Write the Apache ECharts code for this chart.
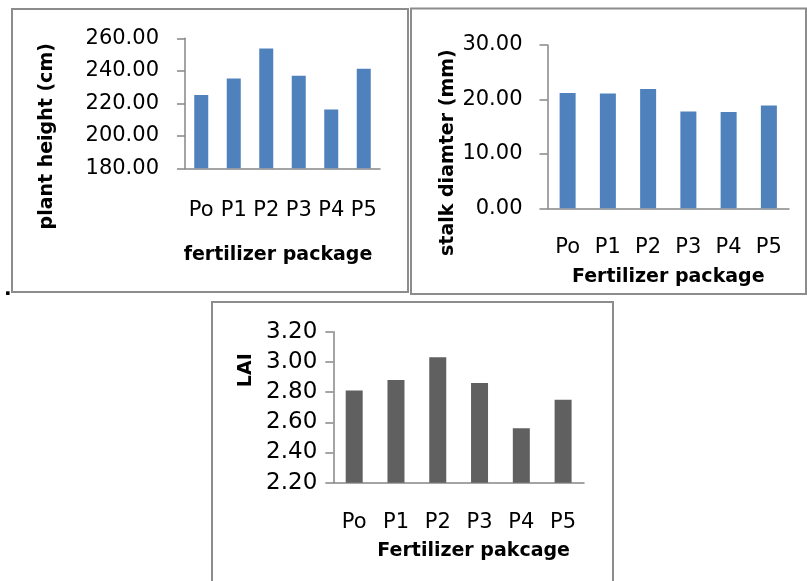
<!DOCTYPE html>
<html><head><meta charset="utf-8">
<script src="https://cdn.jsdelivr.net/npm/echarts@6/dist/echarts.min.js"></script>
<style>html,body{margin:0;padding:0;background:#fff;}#c{width:807px;height:581px;}</style>
</head><body><div id="c"></div>
<script>
var categories = ['Po', 'P1', 'P2', 'P3', 'P4', 'P5'];
var plantHeight = [225.1, 235.3, 253.8, 236.9, 216.2, 241.2];
var stalkDiameter = [21.2, 21.1, 21.9, 17.8, 17.7, 18.9];
var lai = [2.81, 2.88, 3.03, 2.86, 2.56, 2.75];

var FONT = 'DejaVu Sans';
var axisColor = '#868686';
var chart = echarts.init(document.getElementById('c'), null, {renderer: 'canvas'});

function xAx(idx, name, gap, margin, pad) {
  return {
    type: 'category', gridIndex: idx, data: categories,
    name: name, nameLocation: 'middle', nameGap: gap,
    nameTextStyle: {fontFamily: FONT, fontWeight: 'bold', fontSize: 19, color: '#000', padding: pad},
    axisLine: {lineStyle: {color: axisColor, width: 1.5}},
    axisTick: {show: false},
    axisLabel: {fontFamily: FONT, fontSize: 21, color: '#000', margin: margin, interval: 0}
  };
}
function yAx(idx, name, gap, min, max, interval, margin, pad, fs) {
  return {
    type: 'value', gridIndex: idx, min: min, max: max, interval: interval,
    name: name, nameLocation: 'middle', nameGap: gap, nameRotate: 90,
    nameTextStyle: {fontFamily: FONT, fontWeight: 'bold', fontSize: 19, color: '#000', padding: pad},
    axisLine: {show: true, lineStyle: {color: axisColor, width: 1.5}},
    axisTick: {show: true, length: 8, lineStyle: {color: axisColor, width: 1.5}},
    splitLine: {show: false},
    axisLabel: {fontFamily: FONT, fontSize: fs, color: '#000', margin: margin,
      formatter: function (v) { return v.toFixed(2); }}
  };
}

var option = {
  animation: false,
  backgroundColor: '#fff',
  grid: [
    {left: 185, top: 38.3, width: 195, height: 130},
    {left: 547.5, top: 45, width: 241.5, height: 163.3},
    {left: 333.3, top: 331.7, width: 250.7, height: 151}
  ],
  xAxis: [
    xAx(0, 'fertilizer package', 77, 32, [0, 9, 0, 0]),
    xAx(1, 'Fertilizer package', 59, 29, [0, 0, 0, 0]),
    xAx(2, 'Fertilizer pakcage', 59, 29, [0, 0, 0, 30])
  ],
  yAxis: [
    yAx(0, 'plant height (cm)', 128, 180, 260, 20, 26, [0, 66, 0, 0], 21),
    yAx(1, 'stalk diamter (mm)', 90, 0, 30, 10, 25, [0, 52, 0, 0], 21),
    yAx(2, 'LAI', 78, 2.2, 3.2, 0.2, 16, [0, 0, 0, 74], 23)
  ],
  series: [
    {type: 'bar', xAxisIndex: 0, yAxisIndex: 0, data: plantHeight, barWidth: 14, itemStyle: {color: '#4F81BD'}},
    {type: 'bar', xAxisIndex: 1, yAxisIndex: 1, data: stalkDiameter, barWidth: 16, itemStyle: {color: '#4F81BD'}},
    {type: 'bar', xAxisIndex: 2, yAxisIndex: 2, data: lai, barWidth: 17, itemStyle: {color: '#606060'}}
  ],
  graphic: [
    {type: 'rect', shape: {x: 12, y: 9, width: 396, height: 283}, style: {fill: 'none', stroke: '#8c8c8c', lineWidth: 2}, z: 100},
    {type: 'rect', shape: {x: 411, y: 8.5, width: 395, height: 285.5}, style: {fill: 'none', stroke: '#8c8c8c', lineWidth: 2}, z: 100},
    {type: 'rect', shape: {x: 212, y: 302, width: 401, height: 300}, style: {fill: 'none', stroke: '#8c8c8c', lineWidth: 2}, z: 100},
    {type: 'text', x: 4, y: 280, style: {text: '.', font: 'bold 20px DejaVu Sans', fill: '#000'}, z: 100}
  ]
};
chart.setOption(option);
</script>
</body></html>
